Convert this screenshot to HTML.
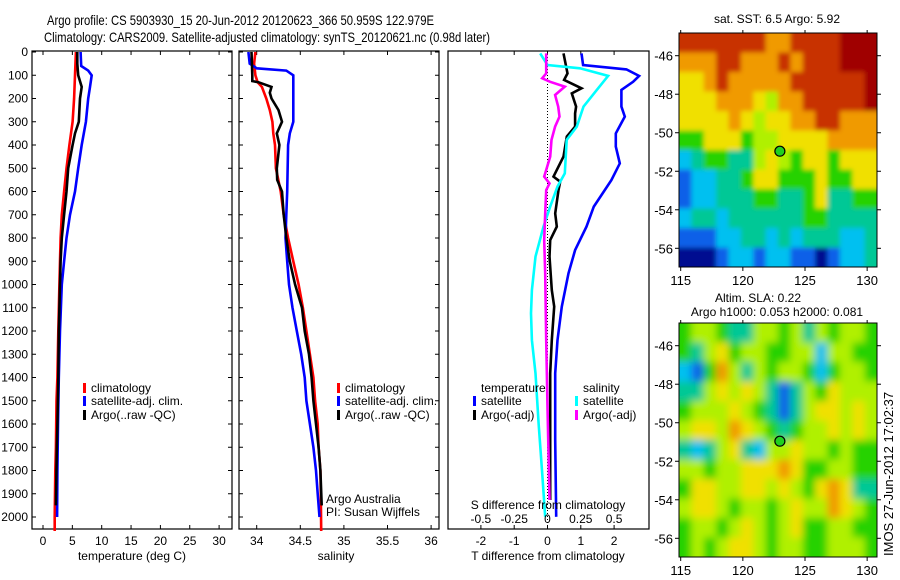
<!DOCTYPE html>
<html><head><meta charset="utf-8">
<style>
html,body{margin:0;padding:0;background:#fff;}
svg{display:block;font-family:"Liberation Sans",sans-serif;}
</style></head>
<body>
<svg id="fig" width="900" height="580" viewBox="0 0 900 580" xmlns="http://www.w3.org/2000/svg">
<defs>
<filter id="blurA" x="-5%" y="-5%" width="110%" height="110%"><feGaussianBlur stdDeviation="2.5"/></filter>
<filter id="blurB" x="-5%" y="-5%" width="110%" height="110%"><feGaussianBlur stdDeviation="4"/></filter>
<clipPath id="clipA"><rect x="679" y="33" width="198" height="234"/></clipPath>
<clipPath id="clipB"><rect x="679" y="323" width="198" height="234"/></clipPath>
</defs>
<rect width="900" height="580" fill="#fff"/>
<text x="47" y="25" font-size="14" textLength="387" lengthAdjust="spacingAndGlyphs">Argo profile: CS 5903930_15 20-Jun-2012 20120623_366 50.959S 122.979E</text>
<text x="44" y="42" font-size="14" textLength="446" lengthAdjust="spacingAndGlyphs">Climatology: CARS2009. Satellite-adjusted climatology: synTS_20120621.nc (0.98d later)</text>
<g id="g"></g>
</svg>
<script>
// ---------- data ----------
const depthTicks=[0,100,200,300,400,500,600,700,800,900,1000,1100,1200,1300,1400,1500,1600,1700,1800,1900,2000];
const tempTicks=[0,5,10,15,20,25,30];
const salTicks=[34,34.5,35,35.5,36];
const tdiffTicks=[-2,-1,0,1,2];
const sdiffTicks=[-0.5,-0.25,0,0.25,0.5];
const sdiffLabels=["-0.5","-0.25","0","0.25","0.5"];

const climTdepth=[0,100,200,300,400,500,600,700,800,900,1000,1200,1400,1500,1700,1800,2000,2060];
const climT=[5.6,5.45,5.3,5.05,4.5,4.0,3.6,3.2,3.0,2.9,2.8,2.6,2.45,2.3,2.2,2.1,2.0,2.0];
const satTdepth=[0,60,80,100,150,200,300,400,500,600,700,800,900,1000,1200,1400,1600,1800,2000];
const satT=[6.4,6.5,7.7,8.3,8.0,7.7,7.3,6.6,6.0,5.45,4.6,4.0,3.6,3.2,2.9,2.7,2.55,2.45,2.4];
const argoTdepth=[0,50,100,150,200,300,350,400,500,600,700,800,900,1000,1200,1400,1600,1700,1950];
const argoT=[5.85,5.85,6.0,6.6,6.3,6.1,5.45,5.05,4.3,4.0,3.6,3.2,3.0,2.9,2.7,2.6,2.45,2.35,2.2];

const climSdepth=[0,50,100,130,150,200,250,300,350,400,500,600,700,800,900,1000,1100,1200,1300,1400,1500,1600,1700,1800,1900,2060];
const climS=[33.985,33.97,33.985,34.01,34.06,34.11,34.15,34.18,34.19,34.21,34.22,34.275,34.31,34.36,34.42,34.48,34.53,34.57,34.61,34.65,34.67,34.70,34.71,34.73,34.735,34.74];
const satSdepth=[0,50,70,80,100,300,350,400,600,700,800,900,1000,1100,1200,1300,1400,1500,1600,1700,1800,1900,2000];
const satS=[33.905,33.92,34.0,34.34,34.42,34.42,34.38,34.36,34.35,34.34,34.33,34.35,34.37,34.41,34.46,34.51,34.55,34.57,34.61,34.65,34.68,34.70,34.72];
const argoSdepth=[0,100,125,130,150,175,200,250,300,350,400,500,550,600,700,800,900,1000,1100,1200,1300,1400,1500,1600,1700,1800,1950];
const argoS=[33.94,33.95,33.95,34.02,34.17,34.15,34.17,34.25,34.29,34.23,34.26,34.23,34.235,34.29,34.31,34.34,34.38,34.44,34.52,34.55,34.6,34.63,34.65,34.68,34.71,34.73,34.745];

const dTsatDepth=[6,56,75,103,128,163,235,278,350,407,479,551,665,751,852,952,1095,1239,1382,1669,1999];
const dTsat=[1.02,1.07,2.37,2.75,2.57,2.22,2.22,2.32,2.05,2.05,2.17,1.92,1.39,1.17,0.83,0.63,0.43,0.3,0.23,0.23,0.26];
const dTargoDepth=[6,92,120,156,178,235,264,321,364,450,536,558,594,694,751,809,880,1024,1095,1239,1382,1669,1927];
const dTargo=[0.48,0.6,0.5,1.02,0.73,0.86,0.83,0.83,0.58,0.48,0.18,0.38,0.33,0.23,0.28,0.08,0.06,0.13,0.2,0.13,0.08,0.08,0.08];
const dSsatDepth=[6,56,70,103,163,235,321,378,522,579,665,751,880,1024,1124,1239,1382,1597,1812,1999];
const dSsat=[-0.055,0,0.244,0.455,0.37,0.27,0.22,0.144,0.13,0.075,0.02,-0.03,-0.09,-0.117,-0.124,-0.117,-0.09,-0.067,-0.04,-0.017];
const dSargoDepth=[6,92,113,128,149,185,235,278,321,378,450,536,565,594,694,809,952,1239,1525,1927];
const dSargo=[-0.01,-0.01,-0.04,0.02,0.13,0.057,0.08,0.09,0.057,0.03,0.02,-0.025,0.015,-0.01,-0.017,-0.025,-0.017,-0.01,0,0.015];

const lonTicks=[115,120,125,130];
const latTicks=[-46,-48,-50,-52,-54,-56];
const floatLon=122.979, floatLat=-50.959;
const sstRows=[
"RRRRRRROORRRRDDD","OOORROOORORRRDDD","YYOROOOOORRRRRRD","YYYOOOYLOORRRRRD",
"YYYYOYLYYOORROOO","GGYYYGLLYYYYOOOO","CTGGTTLYLGYYGYYY","BCCTTGYYGGGYGGYY",
"BCCTTTGGTTGYTTGG","CTTCTTTTTTGGTTTT","BBBCCTTCTCTTTCCT","NNNBCCBCCBBNBCCT"];
const slaRows=[
"GLLGTTLLGLTLGLLG","GTLYGLLGGLLCLLGG","CBGOLTLGLLGCGLLG","TTLYLYLTBTLGYLLL",
"GLLLYLGTBTLYYLYL","LYYLOYLGTGLLYLYL","TCTLYTCLLYLLGLGG","LLGLLYYYOYGGLLGG",
"GYYLLYYLYLGYOYTT","LYYLGLLGLYLLOYLG","GLLGLYLGLYGGLLGG","GLGLYYLGLLGGLLLG"];
const pal={D:"#a00000",R:"#c83200",O:"#f09a00",Y:"#f0e000",L:"#b0f000",G:"#28d200",T:"#00c896",C:"#00c0f0",B:"#1060e8",N:"#001090"};

// ---------- helpers ----------
const NS="http://www.w3.org/2000/svg";
const G=document.getElementById('g');
function mk(tag,attrs,parent){const e=document.createElementNS(NS,tag);for(const k in attrs)e.setAttribute(k,attrs[k]);(parent||G).appendChild(e);return e;}
const yD=d=>52+d*0.2325;
const xT=t=>43+t*5.87;
const xS=s=>256.7+(s-34)*87.2;
const xdT=t=>547.5+t*33.3;
const xdS=s=>547.5+s*133.2;

function panel(x0,x1,name){
  const r=mk('rect',{x:x0,y:51,width:x1-x0,height:478,fill:'none',stroke:'#000','stroke-width':1.2});
  
  
}
function line(xs,ds,xf,color,name,w){
  const p=mk('polyline',{points:xs.map((v,i)=>xf(v).toFixed(1)+','+yD(ds[i]).toFixed(1)).join(' '),fill:'none',stroke:color,'stroke-width':w||2.6,'stroke-linejoin':'miter'});
  
  
}
function txt(x,y,s,opts,name){
  const t=mk('text',Object.assign({x:x,y:y,'font-size':12},opts||{}));
  t.textContent=s;
  
  
  return t;
}
function xticks(vals,xf,labels,ly,name){
  vals.forEach((v,i)=>{
    const x=xf(v);
    mk('line',{x1:x,y1:51,x2:x,y2:55,stroke:'#000'});
    mk('line',{x1:x,y1:529,x2:x,y2:525,stroke:'#000'});
    if(labels) txt(x,ly,labels[i],{'text-anchor':'middle'},name);
  });
}
function yticks(x0,x1){
  depthTicks.forEach(d=>{
    mk('line',{x1:x0,y1:yD(d),x2:x0+4,y2:yD(d),stroke:'#000'});
    mk('line',{x1:x1,y1:yD(d),x2:x1-4,y2:yD(d),stroke:'#000'});
  });
}
function legendBar(x,y,c,s,name){
  const r=mk('rect',{x:x,y:y-5,width:3,height:10,fill:c});
  
  
  txt(x+8,y+4,s,{},name);
}

// ---------- panel 1: temperature ----------
panel(32,232,'temperature-plot-area');
yticks(32,232);
depthTicks.forEach(d=>txt(28,yD(d)+4,String(d),{'text-anchor':'end'},'depth-tick-label'));
xticks(tempTicks,xT,tempTicks.map(String),545,'temperature-tick-label');
line(climT,climTdepth,xT,'#ff0000','temperature-climatology-line');
line(satT,satTdepth,xT,'#0000ff','temperature-satellite-line');
line(argoT,argoTdepth,xT,'#000000','temperature-argo-line');
txt(132,560,'temperature (deg C)',{'text-anchor':'middle'},'temperature-axis-title');
legendBar(83,388,'#ff0000','climatology','legend-climatology');
legendBar(83,401,'#0000ff','satellite-adj. clim.','legend-satellite-adj');
legendBar(83,415,'#000000','Argo(..raw -QC)','legend-argo');

// ---------- panel 2: salinity ----------
panel(239,439,'salinity-plot-area');
yticks(239,439);
xticks(salTicks,xS,salTicks.map(String),545,'salinity-tick-label');
line(climS,climSdepth,xS,'#ff0000','salinity-climatology-line');
line(satS,satSdepth,xS,'#0000ff','salinity-satellite-line');
line(argoS,argoSdepth,xS,'#000000','salinity-argo-line');
txt(336,560,'salinity',{'text-anchor':'middle'},'salinity-axis-title');
legendBar(337,388,'#ff0000','climatology','legend-climatology-2');
legendBar(337,401,'#0000ff','satellite-adj. clim.','legend-satellite-adj-2');
legendBar(337,415,'#000000','Argo(..raw -QC)','legend-argo-2');
txt(326,503,'Argo Australia',{},'credit-argo-australia');
txt(326,516,'PI: Susan Wijffels',{},'credit-pi');

// ---------- panel 3: differences ----------
panel(448,649,'difference-plot-area');
xticks(tdiffTicks,xdT,tdiffTicks.map(String),545,'t-diff-tick-label');
mk('line',{x1:xdT(0),y1:51,x2:xdT(0),y2:529,stroke:'#000','stroke-dasharray':'1,2'});
line(dTsat,dTsatDepth,xdT,'#0000ff','t-diff-satellite-line');
line(dTargo,dTargoDepth,xdT,'#000000','t-diff-argo-line');
line(dSsat,dSsatDepth,xdS,'#00ffff','s-diff-satellite-line');
line(dSargo,dSargoDepth,xdS,'#ff00ff','s-diff-argo-line');
sdiffTicks.forEach((v,i)=>txt(xdS(v),523,sdiffLabels[i],{'text-anchor':'middle'},'s-diff-tick-label'));
txt(548,509,'S difference from climatology',{'text-anchor':'middle'},'s-diff-axis-title');
txt(548,560,'T difference from climatology',{'text-anchor':'middle'},'t-diff-axis-title');
txt(481,392,'temperature',{},'legend-temperature-heading');
txt(583,392,'salinity',{},'legend-salinity-heading');
legendBar(473,401,'#0000ff','satellite','legend-t-satellite');
legendBar(473,415,'#000000','Argo(-adj)','legend-t-argo');
legendBar(575,401,'#00ffff','satellite','legend-s-satellite');
legendBar(575,415,'#ff00ff','Argo(-adj)','legend-s-argo');

// ---------- maps ----------
function map(y0,rows,name,filt,clip){
  const x0=679,x1=877,y1=y0+234;
  const lonX=l=>680.7+(l-115)*12.43;
  const latY=l=>y0+22.7+(-46-l)*19.26;
  const g=mk('g',{});
  
  
  const cg=mk('g',{'clip-path':'url(#'+clip+')'},g);
  const ig=mk('g',{filter:'url(#'+filt+')'},cg);
  const nr=rows.length,nc=rows[0].length;
  const cw=(x1-x0)/nc,ch=(y1-y0)/nr;
  rows.forEach((row,ri)=>{for(let ci=0;ci<nc;ci++){
    let x=x0+ci*cw,y=y0+ri*ch,w=cw+0.6,h=ch+0.6;
    if(ci===0){x-=15;w+=15;} if(ci===nc-1){w+=15;}
    if(ri===0){y-=15;h+=15;} if(ri===nr-1){h+=15;}
    mk('rect',{x:x.toFixed(2),y:y.toFixed(2),width:w.toFixed(2),height:h.toFixed(2),fill:pal[row[ci]]},ig);
  }});
  mk('rect',{x:x0,y:y0,width:x1-x0,height:y1-y0,fill:'none',stroke:'#000'},g);
  lonTicks.forEach(l=>{mk('line',{x1:lonX(l),y1:y1,x2:lonX(l),y2:y1+4,stroke:'#000'},g);mk('line',{x1:lonX(l),y1:y0,x2:lonX(l),y2:y0-3,stroke:'#000'},g);
    txt(lonX(l),y1+18,String(l),{'text-anchor':'middle','font-size':13},'longitude-tick-label');});
  latTicks.forEach(l=>{mk('line',{x1:x0,y1:latY(l),x2:x0-4,y2:latY(l),stroke:'#000'},g);mk('line',{x1:x1,y1:latY(l),x2:x1+4,y2:latY(l),stroke:'#000'},g);
    txt(673,latY(l)+5,String(l),{'text-anchor':'end','font-size':13},'latitude-tick-label');});
  const c=mk('circle',{cx:lonX(floatLon),cy:latY(floatLat),r:5,fill:'#20d020',stroke:'#000','stroke-width':1.2},g);
  
  
}
map(33,sstRows,'sst-map','blurA','clipA');
map(323,slaRows,'sla-map','blurB','clipB');
txt(777,23,'sat. SST: 6.5 Argo: 5.92',{'text-anchor':'middle'},'sst-map-title');
txt(758,302,'Altim. SLA: 0.22',{'text-anchor':'middle'},'sla-map-title');
txt(777,316,'Argo h1000: 0.053 h2000: 0.081',{'text-anchor':'middle'},'sla-map-subtitle');
txt(0,0,'IMOS 27-Jun-2012 17:02:37',{transform:'translate(893,556) rotate(-90)','font-size':13},'imos-timestamp');
</script>
</body></html>
